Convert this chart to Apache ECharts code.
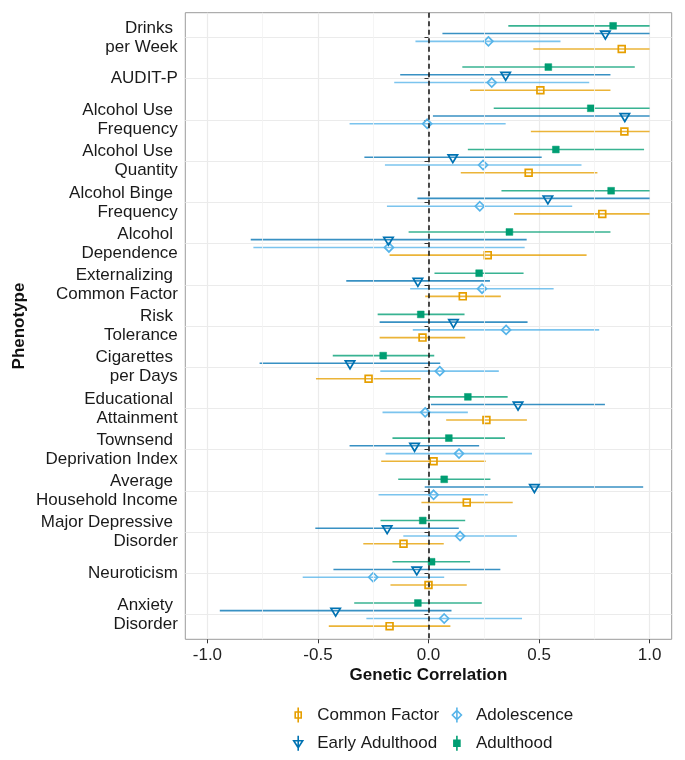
<!DOCTYPE html>
<html>
<head>
<meta charset="utf-8">
<script src="https://cdn.jsdelivr.net/npm/echarts@6/dist/echarts.min.js"></script>
<style>
html,body{margin:0;padding:0;background:#fff;}
#chart{width:685px;height:760px;}
</style>
</head>
<body>
<div id="chart"></div>
<script>
// ---- data ----
const phenotypes = [
  "Drinks \nper Week", "AUDIT-P", "Alcohol Use \nFrequency", "Alcohol Use \nQuantity",
  "Alcohol Binge \nFrequency", "Alcohol \nDependence", "Externalizing \nCommon Factor",
  "Risk \nTolerance", "Cigarettes \nper Days", "Educational \nAttainment",
  "Townsend \nDeprivation Index", "Average \nHousehold Income", "Major Depressive \nDisorder",
  "Neuroticism", "Anxiety \nDisorder"
];
const xTicks = [-1.0, -0.5, 0.0, 0.5, 1.0];
const xMinorTicks = [-0.75, -0.25, 0.25, 0.75];

const adulthoodEst = [0.835, 0.542, 0.734, 0.576, 0.826, 0.366, 0.229, -0.035, -0.205, 0.178, 0.092, 0.071, -0.026, 0.014, -0.048];
const adulthoodLo  = [0.361, 0.153, 0.295, 0.178, 0.330, -0.090, 0.027, -0.230, -0.433, 0.000, -0.163, -0.137, -0.217, -0.163, -0.336];
const adulthoodHi  = [1.000, 0.933, 1.000, 0.975, 1.000, 0.823, 0.430, 0.163, 0.026, 0.358, 0.346, 0.280, 0.166, 0.188, 0.241];

const earlyEst = [0.800, 0.349, 0.888, 0.110, 0.540, -0.181, -0.048, 0.113, -0.355, 0.405, -0.063, 0.479, -0.187, -0.053, -0.420];
const earlyLo  = [0.063, -0.128, 0.020, -0.290, -0.050, -0.804, -0.372, -0.221, -0.764, 0.011, -0.357, -0.017, -0.512, -0.430, -0.944];
const earlyHi  = [1.000, 0.823, 1.000, 0.512, 1.000, 0.444, 0.278, 0.448, 0.053, 0.798, 0.229, 0.971, 0.137, 0.325, 0.104];

const adolEst = [0.271, 0.286, -0.006, 0.247, 0.232, -0.179, 0.242, 0.351, 0.051, -0.015, 0.138, 0.023, 0.143, -0.250, 0.071];
const adolLo  = [-0.059, -0.155, -0.357, -0.197, -0.188, -0.792, -0.083, -0.071, -0.218, -0.208, -0.194, -0.226, -0.114, -0.569, -0.281];
const adolHi  = [0.597, 0.727, 0.349, 0.692, 0.650, 0.435, 0.566, 0.772, 0.318, 0.178, 0.468, 0.268, 0.400, 0.071, 0.423];

const cfEst = [0.874, 0.506, 0.886, 0.453, 0.786, 0.268, 0.155, -0.027, -0.271, 0.262, 0.023, 0.173, -0.113, 0.000, -0.176];
const cfLo  = [0.474, 0.188, 0.463, 0.146, 0.387, -0.176, -0.015, -0.221, -0.509, 0.080, -0.214, -0.032, -0.295, -0.172, -0.451];
const cfHi  = [1.000, 0.823, 1.000, 0.764, 1.000, 0.715, 0.327, 0.166, -0.035, 0.445, 0.259, 0.381, 0.069, 0.173, 0.099];

// ---- styling ----
const FONT = "'Liberation Sans', Arial, Helvetica, sans-serif";
const COLORS = { cf: '#E69F00', adol: '#56B4E9', early: '#0072B2', adult: '#009E73' };
const DODGE = { adult: -0.281, early: -0.095, adol: 0.095, cf: 0.281 };

function marker(shape, x, y, color) {
  if (shape === 'squareFilled') {
    return { type: 'rect', shape: { x: x - 3.4, y: y - 3.4, width: 6.8, height: 6.8 },
      style: { fill: color, stroke: color, lineWidth: 0.5 } };
  }
  if (shape === 'square') {
    return { type: 'rect', shape: { x: x - 3.4, y: y - 3.4, width: 6.8, height: 6.8 },
      style: { fill: 'none', stroke: color, lineWidth: 1.7 } };
  }
  if (shape === 'diamond') {
    return { type: 'polygon', shape: { points: [[x, y - 4.5], [x + 4.5, y], [x, y + 4.5], [x - 4.5, y]] },
      style: { fill: 'none', stroke: color, lineWidth: 1.7 } };
  }
  // triangle down
  return { type: 'polygon', shape: { points: [[x - 4.7, y - 2.4], [x + 4.7, y - 2.4], [x, y + 5.5]] },
    style: { fill: 'none', stroke: color, lineWidth: 1.7 } };
}

function makeSeries(name, key, shape, est, lo, hi) {
  const color = COLORS[key];
  const rows = est.map((e, i) => [i + 1, lo[i], e, hi[i]]);
  return {
    type: 'custom', name: name, data: rows,
    encode: { x: [1, 2, 3], y: 0 },
    itemStyle: { color: color },
    z: 3,
    renderItem: function (params, api) {
      const yv = api.value(0);
      const band = Math.abs(api.size([0, 1])[1]);
      const dy = band * DODGE[key];
      const a = api.coord([api.value(1), yv]);
      const b = api.coord([api.value(3), yv]);
      const p = api.coord([api.value(2), yv]);
      const y = p[1] + dy;
      return {
        type: 'group',
        children: [
          { type: 'line', shape: { x1: a[0], y1: y, x2: b[0], y2: y },
            style: { stroke: color, lineWidth: 1.6, opacity: 0.78 } },
          marker(shape, p[0], y, color)
        ]
      };
    }
  };
}

const vLine = (v, color, w, type) => ({ xAxis: v, lineStyle: { color: color, width: w, type: type } });

const gridSeries = {
  type: 'custom', name: '_grid', data: [], z: 1, silent: true,
  renderItem: function () { return null; },
  markLine: {
    silent: true, symbol: 'none', label: { show: false }, animation: false,
    data: xMinorTicks.map(v => vLine(v, '#f3f3f3', 0.8, 'solid'))
  }
};
const zeroSeries = {
  type: 'custom', name: '_zero', data: [], z: 4, silent: true,
  renderItem: function () { return null; },
  markLine: {
    silent: true, symbol: 'none', label: { show: false }, animation: false,
    data: [vLine(0, '#111', 1.5, [5, 3.5])]
  }
};

const icons = {
  square: 'path://M-3,4.5 L3,4.5 L3,10.5 L-3,10.5 Z M0,0 L0,15',
  diamond: 'path://M0,3 L4.5,7.5 L0,12 L-4.5,7.5 Z M0,0 L0,15',
  triangle: 'path://M-4.5,5 L4.5,5 L0,12 Z M0,0 L0,15'
};

const legendCommon = {
  orient: 'vertical', itemWidth: 28, itemHeight: 15, itemGap: 11.3, selectedMode: false,
  padding: 0, height: 60,
  textStyle: { fontSize: 17, color: '#1a1a1a', fontFamily: FONT }
};

const option = {
  animation: false,
  textStyle: { fontFamily: FONT },
  grid: { left: 185.3, right: 13.3, top: 12.7, bottom: 120.7, show: true,
    borderColor: '#9a9a9a', borderWidth: 1, backgroundColor: '#fff' },
  xAxis: {
    type: 'value', min: -1.1, max: 1.1,
    name: 'Genetic Correlation', nameLocation: 'middle', nameGap: 28, nameMoveOverlap: false,
    nameTextStyle: { fontSize: 17, fontWeight: 'bold', color: '#111', fontFamily: FONT },
    axisLine: { show: false },
    axisTick: { show: true, length: 4, customValues: xTicks, lineStyle: { color: '#333', width: 1 } },
    axisLabel: { customValues: xTicks, fontSize: 17, color: '#222', margin: 8, fontFamily: FONT,
      formatter: v => v.toFixed(1) },
    splitLine: { show: true, lineStyle: { color: '#ebebeb', width: 1.2 } }
  },
  yAxis: {
    type: 'value', min: 0.4, max: 15.6, inverse: true,
    name: 'Phenotype', nameLocation: 'middle', nameGap: 157, nameRotate: 90, nameMoveOverlap: false,
    nameTextStyle: { fontSize: 17, fontWeight: 'bold', color: '#111', fontFamily: FONT },
    axisLine: { show: false },
    axisTick: { show: true, length: 4, customValues: phenotypes.map((_, i) => i + 1), lineStyle: { color: '#333', width: 1 } },
    axisLabel: { customValues: phenotypes.map((_, i) => i + 1), fontSize: 17, lineHeight: 19,
      color: '#1a1a1a', margin: 7.5, fontFamily: FONT,
      formatter: v => phenotypes[Math.round(v) - 1] },
    splitLine: { show: true, lineStyle: { color: '#ebebeb', width: 1.2 } }
  },
  legend: [
    Object.assign({}, legendCommon, { left: 292.9, top: 706.5,
      data: [
        { name: 'Common Factor', icon: icons.square, itemStyle: { color: 'rgba(0,0,0,0)', borderColor: COLORS.cf, borderWidth: 1.6 } },
        { name: 'Early Adulthood', icon: icons.triangle, itemStyle: { color: 'rgba(0,0,0,0)', borderColor: COLORS.early, borderWidth: 1.6 } }
      ] }),
    Object.assign({}, legendCommon, { left: 451.6, top: 706.5,
      data: [
        { name: 'Adolescence', icon: icons.diamond, itemStyle: { color: 'rgba(0,0,0,0)', borderColor: COLORS.adol, borderWidth: 1.6 } },
        { name: 'Adulthood', icon: icons.square, itemStyle: { color: COLORS.adult, borderColor: COLORS.adult, borderWidth: 1.6 } }
      ] })
  ],
  series: [
    gridSeries,
    makeSeries('Common Factor', 'cf', 'square', cfEst, cfLo, cfHi),
    makeSeries('Adolescence', 'adol', 'diamond', adolEst, adolLo, adolHi),
    makeSeries('Early Adulthood', 'early', 'triangle', earlyEst, earlyLo, earlyHi),
    makeSeries('Adulthood', 'adult', 'squareFilled', adulthoodEst, adulthoodLo, adulthoodHi),
    zeroSeries
  ]
};

const chart = echarts.init(document.getElementById('chart'), null, { renderer: 'canvas' });
chart.setOption(option);
</script>
</body>
</html>
